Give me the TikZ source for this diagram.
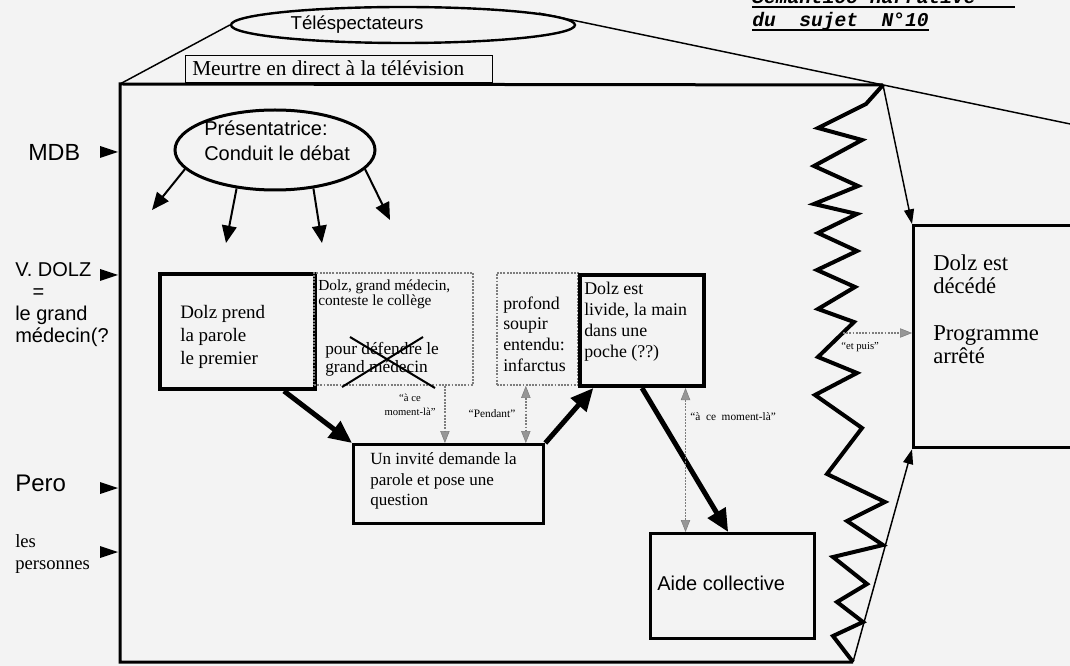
\documentclass[tikz,border=0pt]{standalone}
\usepackage{fontspec}
\setmainfont{Liberation Serif}
\setsansfont{Liberation Sans}
\setmonofont{Liberation Mono}
\usetikzlibrary{arrows.meta,shapes.geometric,calc}
\definecolor{bgc}{RGB}{243,243,243}
\definecolor{dotc}{RGB}{125,125,125}
\definecolor{headc}{RGB}{150,150,150}
\begin{document}
\begin{tikzpicture}[x=0.75pt,y=-0.75pt,
  box/.style={draw, anchor=north west, inner sep=0pt},
  dotbox/.style={draw=dotc, densely dotted, line width=1.4pt, anchor=north west, inner sep=0pt},
  txt/.style={anchor=west, inner sep=0pt, align=left},
  thickarrow/.style={line width=3.75pt, -{Triangle[length=17pt,width=15pt]}},
  medarrow/.style={line width=1.5pt, -{Triangle[length=13pt,width=11pt]}},
  thinarrow/.style={line width=1.1pt, -{Triangle[length=11pt,width=7.5pt]}},
  dotarrow/.style={draw=dotc, densely dotted, line width=1.4pt, -{Triangle[length=9pt,width=7pt,fill=headc,color=dotc,line width=0.4pt]}},
  dotdarrow/.style={draw=dotc, densely dotted, line width=1.4pt, {Triangle[length=9pt,width=7pt,fill=headc,color=dotc,line width=0.4pt]}-{Triangle[length=9pt,width=7pt,fill=headc,color=dotc,line width=0.4pt]}},
  sidetip/.style={fill=black},
  smalllbl/.style={inner sep=0pt, font=\fontsize{8}{10}\selectfont, align=center}
]
\useasboundingbox (0,0) rectangle (1070,666);
\fill[bgc] (0,0) rectangle (1070,666);

% title (partly cut at top, as in the reference)
\node[anchor=base west, inner sep=0pt, font=\ttfamily\bfseries\itshape\fontsize{14.7}{16}\selectfont] (title1) at (752,4) {Sémantico-narrative};
\node[anchor=base west, inner sep=0pt, font=\ttfamily\bfseries\itshape\fontsize{14.7}{16}\selectfont] (title2) at (752,27) {du~~sujet~~N°10};
\draw[line width=1.2pt] (title1.south west |- 0,7) -- (1015,7);
\draw[line width=1.2pt] (title2.south west |- 0,30) -- (title2.south east |- 0,30);

% main frame
\coordinate (tl) at (120,84);
\coordinate (bl) at (120,662);
\coordinate (br) at (853,662);
\coordinate (tr) at (883,85);
\draw[line width=2.25pt] (tr) -- (tl) -- (bl) -- (br);
\draw[line width=3pt, line join=miter, miter limit=20] (tr) -- (866,104) -- (818,128) -- (862,140) -- (814,166) -- (858,186) -- (814,204) -- (857,214) -- (818,233) -- (857,251) -- (817,270) -- (855,287) -- (818,309) -- (854,322) -- (818,357) -- (857,373) -- (815,395) -- (862,428) -- (827,474) -- (885,502) -- (847,521) -- (883,545) -- (833,557) -- (867,584) -- (837,602) -- (863,622) -- (833,636) -- (br);
\coordinate (zp) at (843,333);

% spectators
\node[draw, ellipse, line width=1.8pt, minimum width=258pt, minimum height=27pt, inner sep=0pt] (tele) at (403,25) {};
\node[inner sep=0pt, font=\sffamily\fontsize{14}{16}\selectfont] (teletxt) at (357,25) {Téléspectateurs};
\coordinate (farright) at (1075,125);
\draw[line width=1.1pt] (tl) -- (tele.west);
\draw[line width=1.1pt] (tele.5) -- (farright);

% title box
\node[box, line width=1.1pt, minimum width=230.25pt, minimum height=20.25pt] (meurtre) at (185,55) {};
\node[txt, font=\fontsize{16}{18}\selectfont] (meurtretxt) at (192,68) {Meurtre en direct à la télévision};

% left labels
\node[txt, font=\sffamily\fontsize{17.5}{18}\selectfont] (mdb) at (28,152) {MDB};
\node[txt, font=\sffamily\fontsize{15}{16.5}\selectfont] (dolzlbl) at (15,305) {V. DOLZ\\\hspace*{13pt}=\\le grand\\médecin(?};
\node[txt, font=\sffamily\fontsize{18}{20}\selectfont] (pero) at (15,483) {Pero};
\node[txt, font=\fontsize{14}{16.5}\selectfont] (pers) at (15,554) {les\\personnes};
\fill[sidetip] (100,146) -- (118,152) -- (100,158) -- cycle;
\fill[sidetip] (100,269) -- (118,275) -- (100,281) -- cycle;
\fill[sidetip] (100,482) -- (118,488) -- (100,494) -- cycle;
\fill[sidetip] (100,546) -- (118,552) -- (100,558) -- cycle;

% presenter
\node[draw, ellipse, line width=2.25pt, minimum width=150pt, minimum height=60pt, inner sep=0pt] (pres) at (275,150) {};
\node[txt, font=\sffamily\fontsize{15}{18.75}\selectfont] (prestxt) at (204,141) {Présentatrice:\\Conduit le débat};
\coordinate (a1) at (152,210);
\coordinate (a2) at (226,243);
\coordinate (a3) at (322,243);
\coordinate (a4) at (390,220);
\draw[medarrow] (pres.192) -- (a1);
\draw[medarrow] (pres.225) -- (a2);
\draw[medarrow] (pres.315) -- (a3);
\draw[medarrow] (pres.348) -- (a4);

% boxes
\node[box, line width=3pt, minimum width=116.25pt, minimum height=86.25pt] (prend) at (158,272) {};
\node[txt, font=\fontsize{14.25}{17.25}\selectfont] (prendtxt) at (180,337) {Dolz prend\\la parole\\le premier};

\node[dotbox, minimum width=119.25pt, minimum height=84pt] (defend) at (313,272) {};
\node[txt, font=\fontsize{11.5}{10}\selectfont] (defendtxt1) at (318,294) {Dolz, grand médecin,\\conteste le collège};
\node[txt, font=\fontsize{13}{13.5}\selectfont] (defendtxt2) at (325,359) {pour défendre le\\grand médecin};
\draw[line width=1.5pt] (350,337) -- (435,388);
\draw[line width=1.5pt] (423,337) -- (342,387);

\node[dotbox, minimum width=60.75pt, minimum height=84pt] (soupir) at (496,272) {};
\node[txt, font=\fontsize{13.4}{15.5}\selectfont] (soupirtxt) at (503,334) {profond\\soupir\\entendu:\\infarctus};

\node[box, line width=3pt, minimum width=93pt, minimum height=83.25pt] (livide) at (578,273) {};
\node[txt, font=\fontsize{13.4}{15.75}\selectfont] (lividetxt) at (584,322) {Dolz est\\livide, la main\\dans une\\poche (??)};

\node[box, line width=2.5pt, minimum width=142.5pt, minimum height=59.25pt] (invite) at (352,443) {};
\node[txt, font=\fontsize{12.8}{15.5}\selectfont] (invitetxt) at (370,481) {Un invité demande la\\parole et pose une\\question};

\node[box, line width=2pt, minimum width=123pt, minimum height=78.75pt] (aide) at (649,532) {};
\node[txt, font=\sffamily\fontsize{15}{18}\selectfont] (aidetxt) at (657,583) {Aide collective};

\node[box, line width=2.5pt, minimum width=131.25pt, minimum height=166.5pt] (deces) at (912,224) {};
\node[txt, font=\fontsize{17}{17}\selectfont] (decestxt1) at (933,274) {Dolz est\\décédé};
\node[txt, font=\fontsize{17}{17}\selectfont] (decestxt2) at (933,345) {Programme\\arrêté};

% thick flow arrows
\draw[thickarrow] (prend.-52) -- (invite.north west);
\draw[thickarrow] (invite.north east) -- ($(livide.south west)!0.12!(livide.south east)$);
\draw[thickarrow] (livide.south) -- ($(aide.north west)!0.475!(aide.north east)$);

% dotted temporal arrows
\coordinate (d1) at ($(defend.south west)!0.82!(defend.south east)$);
\draw[dotarrow] (d1) -- (d1 |- invite.north);
\node[smalllbl] (lbl1) at (410,405) {“à ce\\moment-là”};
\coordinate (d2) at ($(soupir.south west)!0.36!(soupir.south east)$);
\draw[dotdarrow] (d2) -- (d2 |- invite.north);
\node[smalllbl, font=\fontsize{8.5}{10}\selectfont] (lbl2) at (492,414) {“Pendant”};
\coordinate (d3) at ($(livide.south west)!0.84!(livide.south east)$);
\draw[dotdarrow] (d3) -- (d3 |- aide.north);
\node[smalllbl, anchor=west, font=\fontsize{8.5}{10}\selectfont] (lbl3) at (690,417) {“à\ \ ce\ \ moment-là”};
\draw[dotarrow] (zp) -- (zp -| deces.west);
\node[smalllbl, anchor=west] (lbl4) at (841,347) {“et\ puis”};

% thin arrows to the result box
\draw[thinarrow] (tr) -- (deces.north west);
\draw[thinarrow] (br) -- (deces.south west);
\end{tikzpicture}
\end{document}
